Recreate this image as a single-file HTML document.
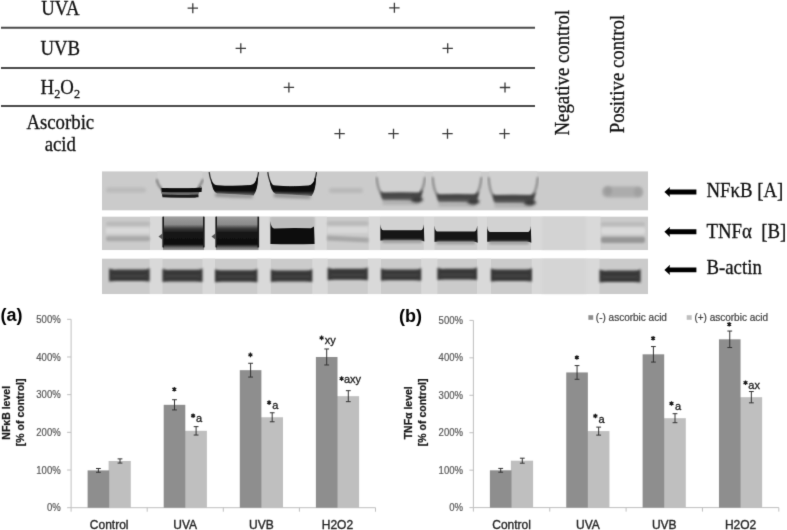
<!DOCTYPE html>
<html><head><meta charset="utf-8"><title>Figure</title>
<style>html,body{margin:0;padding:0;background:#fff;}body{width:787px;height:530px;overflow:hidden;}svg{display:block;filter:grayscale(1);}</style>
</head><body>
<svg width="787" height="530" viewBox="0 0 787 530">
<defs><filter id="gblur" filterUnits="userSpaceOnUse" x="0" y="0" width="787" height="530" color-interpolation-filters="sRGB"><feConvolveMatrix order="3" kernelMatrix="0.0114 0.0841 0.0114 0.0841 0.6180 0.0841 0.0114 0.0841 0.0114" divisor="1" edgeMode="duplicate"/></filter></defs>
<rect width="787" height="530" fill="#fff"/>
<g filter="url(#gblur)">
<defs><filter id="b05" x="-20%" y="-50%" width="140%" height="200%"><feGaussianBlur stdDeviation="0.6"/></filter><filter id="b1" x="-20%" y="-50%" width="140%" height="200%"><feGaussianBlur stdDeviation="0.9"/></filter><filter id="b2" x="-20%" y="-50%" width="140%" height="200%"><feGaussianBlur stdDeviation="1.6"/></filter><filter id="b3" x="-30%" y="-80%" width="160%" height="260%"><feGaussianBlur stdDeviation="2.4"/></filter><clipPath id="c1"><rect x="102" y="171.2" width="546" height="39.400000000000006"/></clipPath><clipPath id="c2"><rect x="102" y="216.4" width="546" height="33.79999999999998"/></clipPath><clipPath id="c3"><rect x="102" y="258.4" width="546" height="35.80000000000001"/></clipPath><linearGradient id="g1" x1="0" y1="0" x2="0" y2="1"><stop offset="0" stop-color="#030303"/><stop offset="0.7" stop-color="#0a0a0a"/><stop offset="1" stop-color="#505050"/></linearGradient><linearGradient id="g2" x1="0" y1="0" x2="0" y2="1"><stop offset="0" stop-color="#a2a2a2"/><stop offset="0.26" stop-color="#8a8a8a"/><stop offset="0.38" stop-color="#3a3a3a"/><stop offset="0.5" stop-color="#151515"/><stop offset="0.83" stop-color="#0e0e0e"/><stop offset="0.92" stop-color="#6a6a6a"/><stop offset="1" stop-color="#a0a0a0"/></linearGradient><linearGradient id="g3" x1="0" y1="0" x2="0" y2="1"><stop offset="0" stop-color="#3a3a3a"/><stop offset="0.5" stop-color="#474747"/><stop offset="1" stop-color="#6a6a6a"/></linearGradient></defs>
<g clip-path="url(#c1)">
<rect x="102" y="171.2" width="546" height="39.400000000000006" fill="#cbcbcb"/>
<rect x="106" y="187.4" width="40" height="5" rx="2.5" fill="#bababa" filter="url(#b2)"/>
<rect x="329" y="188" width="34" height="5" rx="2.5" fill="#b8b8b8" filter="url(#b2)"/>
<rect x="602" y="186.5" width="41" height="11" rx="5" fill="#acacac" filter="url(#b2)"/>
<ellipse cx="608" cy="191" rx="4" ry="4.5" fill="#9c9c9c" filter="url(#b2)"/>
<ellipse cx="638" cy="192" rx="4" ry="4.5" fill="#a0a0a0" filter="url(#b2)"/>
<path d="M157.1 171.2 H202.5 Q201.5 186.0 198.0 189.0 L162.6 189.0 Q158.1 186.0 157.1 171.2 Z" fill="#d0d0d0" filter="url(#b05)"/>
<path d="M156.6 179.2 Q157.6 185.0 161.6 189.0" stroke="#6a6a6a" stroke-width="1.6" fill="none" filter="url(#b1)"/>
<path d="M203.0 179.2 Q202.0 183.0 198.0 188.0" stroke="#6a6a6a" stroke-width="1.6" fill="none" filter="url(#b1)"/>
<path d="M160.6 187.5 Q161.6 188.0 164.6 188.0 Q179.8 189.0 195.0 188.0 Q199.0 187.5 201.0 185.5 L200.0 190.0 Q198.0 197.0 195.0 198.0 Q179.8 198.0 164.6 197.0 Q161.6 196.0 160.6 190.0 Z" fill="#6a6a6a" filter="url(#b05)"/>
<path d="M161.5 188 Q180 188.8 201.5 187.8 L202 185.8 L201.5 192 Q180 192.6 162 192 Z" fill="#080808" filter="url(#b05)"/>
<path d="M162 194.6 Q180 195.3 198.5 194.4 L198.5 197.2 Q180 197.9 162.5 197.2 Z" fill="#1a1a1a" filter="url(#b05)"/>
<path d="M209.7 171.2 H258.1 Q257.1 182 253.60000000000002 186 L215.2 186 Q210.7 182 209.7 171.2 Z" fill="#d0d0d0" filter="url(#b05)"/>
<path d="M209.2 172.2 Q210.2 180 213.2 185" stroke="#333" stroke-width="1.3" fill="none" filter="url(#b05)"/>
<path d="M258.6 172.2 Q258.1 176 256.6 180" stroke="#333" stroke-width="1.3" fill="none" filter="url(#b05)"/>
<path d="M210.7 178 Q212.2 185 217.2 185.2 Q233.9 186.4 250.60000000000002 185 Q255.60000000000002 184 257.1 177 L258.1 178 Q257.6 190 253.60000000000002 195.5 Q233.9 194 217.2 193.5 Q212.2 192 210.7 178 Z" fill="url(#g1)" filter="url(#b05)"/>
<path d="M215.2 193 Q233.9 194.5 252.60000000000002 195 L252.60000000000002 198 Q233.9 197.5 215.2 196.5 Z" fill="#8a8a8a" filter="url(#b2)"/>
<path d="M268.3 171.2 H316.1 Q315.1 182 311.6 186 L273.8 186 Q269.3 182 268.3 171.2 Z" fill="#d0d0d0" filter="url(#b05)"/>
<path d="M267.8 172.2 Q268.8 180 271.8 185" stroke="#333" stroke-width="1.3" fill="none" filter="url(#b05)"/>
<path d="M316.6 172.2 Q316.1 176 314.6 180" stroke="#333" stroke-width="1.3" fill="none" filter="url(#b05)"/>
<path d="M269.3 178.4 Q270.8 185.4 275.8 185.6 Q292.20000000000005 186.8 308.6 185.4 Q313.6 184.4 315.1 177.4 L316.1 178.4 Q315.6 190.4 311.6 195.9 Q292.20000000000005 194.4 275.8 193.9 Q270.8 192.4 269.3 178.4 Z" fill="url(#g1)" filter="url(#b05)"/>
<path d="M273.8 193.4 Q292.20000000000005 194.9 310.6 195.4 L310.6 198.4 Q292.20000000000005 197.9 273.8 196.9 Z" fill="#8a8a8a" filter="url(#b2)"/>
<path d="M377.1 171.2 H424.5 Q423.5 190.6 420.0 193.6 L382.6 193.6 Q378.1 190.6 377.1 171.2 Z" fill="#d0d0d0" filter="url(#b05)"/>
<path d="M376.6 177.2 Q377.6 189.6 381.6 193.6" stroke="#8a8a8a" stroke-width="2.2" fill="none" filter="url(#b1)"/>
<path d="M425.0 177.2 Q424.0 187.6 420.0 192.6" stroke="#8a8a8a" stroke-width="2.2" fill="none" filter="url(#b1)"/>
<path d="M380.6 191.6 Q381.6 192.6 384.6 192.6 Q400.8 192.1 417.0 192.6 Q421.0 192.1 423.0 189.6 L422.0 194.6 Q420.0 201.4 417.0 202.4 Q400.8 200.9 384.6 201.4 Q381.6 200.4 380.6 194.6 Z" fill="url(#g3)" filter="url(#b1)"/>
<rect x="382.6" y="200.4" width="36.39999999999998" height="4.5" fill="#b0b0b0" filter="url(#b2)"/>
<path d="M433.1 171.2 H480.9 Q479.9 192.2 476.4 195.2 L438.6 195.2 Q434.1 192.2 433.1 171.2 Z" fill="#d0d0d0" filter="url(#b05)"/>
<path d="M432.6 177.2 Q433.6 191.2 437.6 195.2" stroke="#8a8a8a" stroke-width="2.2" fill="none" filter="url(#b1)"/>
<path d="M481.4 177.2 Q480.4 189.2 476.4 194.2" stroke="#8a8a8a" stroke-width="2.2" fill="none" filter="url(#b1)"/>
<path d="M436.6 193.2 Q437.6 194.2 440.6 194.2 Q457.0 193.7 473.4 194.2 Q477.4 193.7 479.4 191.2 L478.4 196.2 Q476.4 203.2 473.4 204.2 Q457.0 202.7 440.6 203.2 Q437.6 202.2 436.6 196.2 Z" fill="url(#g3)" filter="url(#b1)"/>
<rect x="438.6" y="202.2" width="36.799999999999955" height="4.5" fill="#b0b0b0" filter="url(#b2)"/>
<path d="M489.1 171.2 H537.3 Q536.3 193.0 532.8 196.0 L494.6 196.0 Q490.1 193.0 489.1 171.2 Z" fill="#d0d0d0" filter="url(#b05)"/>
<path d="M488.6 177.2 Q489.6 192.0 493.6 196.0" stroke="#8a8a8a" stroke-width="2.2" fill="none" filter="url(#b1)"/>
<path d="M537.8 177.2 Q536.8 190.0 532.8 195.0" stroke="#8a8a8a" stroke-width="2.2" fill="none" filter="url(#b1)"/>
<path d="M492.6 194.0 Q493.6 195.0 496.6 195.0 Q513.2 194.5 529.8 195.0 Q533.8 194.5 535.8 192.0 L534.8 197.0 Q532.8 204.0 529.8 205.0 Q513.2 203.5 496.6 204.0 Q493.6 203.0 492.6 197.0 Z" fill="url(#g3)" filter="url(#b1)"/>
<rect x="494.6" y="203.0" width="37.19999999999993" height="4.5" fill="#b0b0b0" filter="url(#b2)"/>
<ellipse cx="417" cy="199.5" rx="6" ry="3" fill="#3a3a3a" filter="url(#b2)"/>
<ellipse cx="473.5" cy="201.5" rx="6" ry="3" fill="#3a3a3a" filter="url(#b2)"/>
<ellipse cx="530" cy="202.5" rx="6" ry="3" fill="#3a3a3a" filter="url(#b2)"/>
</g>
<g clip-path="url(#c2)">
<rect x="102" y="216.4" width="546" height="33.79999999999998" fill="#cbcbcb"/>
<rect x="150" y="216.4" width="11.5" height="33.79999999999998" fill="#d9d9d9" filter="url(#b05)"/>
<rect x="204.5" y="216.4" width="11.0" height="33.79999999999998" fill="#d9d9d9" filter="url(#b05)"/>
<rect x="258.5" y="216.4" width="11.699999999999989" height="33.79999999999998" fill="#d9d9d9" filter="url(#b05)"/>
<rect x="314.6" y="216.4" width="12.199999999999989" height="33.79999999999998" fill="#d9d9d9" filter="url(#b05)"/>
<rect x="368.7" y="216.4" width="11.5" height="33.79999999999998" fill="#d9d9d9" filter="url(#b05)"/>
<rect x="423.8" y="216.4" width="10.699999999999989" height="33.79999999999998" fill="#d9d9d9" filter="url(#b05)"/>
<rect x="477.2" y="216.4" width="9.900000000000034" height="33.79999999999998" fill="#d9d9d9" filter="url(#b05)"/>
<rect x="531" y="216.4" width="69.5" height="33.79999999999998" fill="#d9d9d9" filter="url(#b05)"/>
<rect x="542" y="216" width="44" height="35" fill="#d3d3d3" filter="url(#b2)"/>
<rect x="106" y="221.8" width="44" height="4" rx="2" fill="#b9b9b9" filter="url(#b1)"/>
<rect x="106" y="228" width="44" height="5.5" fill="#dadada" filter="url(#b1)"/>
<rect x="106" y="236.2" width="44" height="5" rx="2" fill="#a9a9a9" filter="url(#b1)"/>
<rect x="327" y="221.3" width="41.5" height="4.2" rx="2" fill="#b9b9b9" filter="url(#b1)"/>
<rect x="327" y="227" width="41.5" height="6" fill="#d8d8d8" filter="url(#b1)"/>
<path d="M327 235.6 L368.5 237.8 L368.5 242.5 L327 240.6 Z" fill="#a7a7a7" filter="url(#b1)"/>
<rect x="163.0" y="215.4" width="41.0" height="34.79999999999998" fill="url(#g2)" filter="url(#b05)"/>
<rect x="162.4" y="216.4" width="1.6" height="31" fill="#1a1a1a" filter="url(#b05)"/>
<rect x="203.0" y="216.4" width="1.6" height="31" fill="#1a1a1a" filter="url(#b05)"/>
<path d="M163.0 233 L158.5 236.4 L163.0 240 Z" fill="#555" filter="url(#b05)"/>
<rect x="216.0" y="215.4" width="42.5" height="34.79999999999998" fill="url(#g2)" filter="url(#b05)"/>
<rect x="215.4" y="216.4" width="1.6" height="31" fill="#1a1a1a" filter="url(#b05)"/>
<rect x="257.5" y="216.4" width="1.6" height="31" fill="#1a1a1a" filter="url(#b05)"/>
<path d="M216.0 233 L211.5 236.4 L216.0 240 Z" fill="#555" filter="url(#b05)"/>
<rect x="270.4" y="216.5" width="44.2" height="12" fill="#bdbdbd" filter="url(#b1)"/>
<path d="M270.4 221 Q271 228 274 228.5 Q292 227.5 311 228.3 Q313 227 314 226.5 L314.6 244 Q292 244.5 270.4 244 Z" fill="#0f0f0f" filter="url(#b05)"/>
<rect x="380.4" y="216.4" width="43.400000000000034" height="13.900000000000006" fill="#d2d2d2" filter="url(#b05)"/>
<path d="M380.4 224.3 Q380.9 230.3 383.4 230.3 H420.8 Q423.3 230.3 423.8 224.3 L424.3 241.4 Q422.8 240.4 419.8 240.4 H384.4 Q381.4 240.4 380.4 240.4 Z" fill="#121212" filter="url(#b05)"/>
<rect x="382.4" y="239.9" width="39.400000000000034" height="3" fill="#9a9a9a" filter="url(#b1)"/>
<rect x="434.5" y="216.4" width="42.69999999999999" height="15.199999999999989" fill="#d2d2d2" filter="url(#b05)"/>
<path d="M434.5 225.6 Q435.0 231.6 437.5 231.6 H474.2 Q476.7 231.6 477.2 225.6 L477.7 242.7 Q476.2 241.7 473.2 241.7 H438.5 Q435.5 241.7 434.5 241.7 Z" fill="#121212" filter="url(#b05)"/>
<rect x="436.5" y="241.2" width="38.69999999999999" height="3" fill="#9a9a9a" filter="url(#b1)"/>
<rect x="487.2" y="216.4" width="43.599999999999966" height="15.599999999999994" fill="#d2d2d2" filter="url(#b05)"/>
<path d="M487.2 226.0 Q487.7 232.0 490.2 232.0 H527.8 Q530.3 232.0 530.8 226.0 L531.3 242.8 Q529.8 241.8 526.8 241.8 H491.2 Q488.2 241.8 487.2 241.8 Z" fill="#121212" filter="url(#b05)"/>
<rect x="489.2" y="241.3" width="39.599999999999966" height="3" fill="#9a9a9a" filter="url(#b1)"/>
<rect x="601" y="222" width="44" height="4.6" rx="2" fill="#bcbcbc" filter="url(#b1)"/>
<rect x="601" y="227.5" width="44" height="6.5" rx="2" fill="#dadada" filter="url(#b1)"/>
<rect x="601" y="236.8" width="44" height="6.2" rx="2" fill="#979797" filter="url(#b1)"/>
</g>
<g clip-path="url(#c3)">
<rect x="102" y="258.4" width="546" height="35.80000000000001" fill="#cbcbcb"/>
<rect x="149.6" y="258.4" width="12.900000000000006" height="35.80000000000001" fill="#d9d9d9" filter="url(#b05)"/>
<rect x="202.5" y="258.4" width="12.5" height="35.80000000000001" fill="#d9d9d9" filter="url(#b05)"/>
<rect x="257.4" y="258.4" width="13.5" height="35.80000000000001" fill="#d9d9d9" filter="url(#b05)"/>
<rect x="312.3" y="258.4" width="15.300000000000011" height="35.80000000000001" fill="#d9d9d9" filter="url(#b05)"/>
<rect x="367.8" y="258.4" width="13.199999999999989" height="35.80000000000001" fill="#d9d9d9" filter="url(#b05)"/>
<rect x="421.2" y="258.4" width="16.19999999999999" height="35.80000000000001" fill="#d9d9d9" filter="url(#b05)"/>
<rect x="477" y="258.4" width="14" height="35.80000000000001" fill="#d9d9d9" filter="url(#b05)"/>
<rect x="531.8" y="258.4" width="67.70000000000005" height="35.80000000000001" fill="#d9d9d9" filter="url(#b05)"/>
<rect x="542" y="258" width="44" height="37" fill="#d5d5d5" filter="url(#b2)"/>
<path d="M109.1 268.6 Q112.1 270.1 117.1 269.6 H143.6 Q147.6 269.6 149.6 268.1 L149.6 281.5 Q146.6 281.0 142.6 281.0 H116.1 Q111.1 281.0 109.1 281.5 Z" fill="#393939" filter="url(#b1)"/>
<rect x="112.1" y="275.1" width="34.5" height="1.4" fill="#4a4a4a" filter="url(#b1)"/>
<path d="M162.5 268.8 Q165.5 270.3 170.5 269.8 H196.5 Q200.5 269.8 202.5 268.3 L202.5 282.1 Q199.5 281.6 195.5 281.6 H169.5 Q164.5 281.6 162.5 282.1 Z" fill="#393939" filter="url(#b1)"/>
<rect x="165.5" y="275.50000000000006" width="34.0" height="1.4" fill="#4a4a4a" filter="url(#b1)"/>
<path d="M215 269.2 Q218 270.7 223 270.2 H251.39999999999998 Q255.39999999999998 270.2 257.4 268.7 L257.4 282.3 Q254.39999999999998 281.8 250.39999999999998 281.8 H222 Q217 281.8 215 282.3 Z" fill="#393939" filter="url(#b1)"/>
<rect x="218" y="275.8" width="36.39999999999998" height="1.4" fill="#4a4a4a" filter="url(#b1)"/>
<path d="M270.9 269.4 Q273.9 270.9 278.9 270.4 H306.3 Q310.3 270.4 312.3 268.9 L312.3 281.9 Q309.3 281.4 305.3 281.4 H277.9 Q272.9 281.4 270.9 281.9 Z" fill="#393939" filter="url(#b1)"/>
<rect x="273.9" y="275.7" width="35.400000000000034" height="1.4" fill="#4a4a4a" filter="url(#b1)"/>
<path d="M327.6 267.8 Q330.6 269.3 335.6 268.8 H361.8 Q365.8 268.8 367.8 267.3 L367.8 280.3 Q364.8 279.8 360.8 279.8 H334.6 Q329.6 279.8 327.6 280.3 Z" fill="#393939" filter="url(#b1)"/>
<rect x="330.6" y="274.1" width="34.19999999999999" height="1.4" fill="#4a4a4a" filter="url(#b1)"/>
<path d="M381 268.4 Q384 269.9 389 269.4 H415.2 Q419.2 269.4 421.2 267.9 L421.2 280.7 Q418.2 280.2 414.2 280.2 H388 Q383 280.2 381 280.7 Z" fill="#393939" filter="url(#b1)"/>
<rect x="384" y="274.59999999999997" width="34.19999999999999" height="1.4" fill="#4a4a4a" filter="url(#b1)"/>
<path d="M437.4 267.8 Q440.4 269.3 445.4 268.8 H471 Q475 268.8 477 267.3 L477 280.1 Q474 279.6 470 279.6 H444.4 Q439.4 279.6 437.4 280.1 Z" fill="#393939" filter="url(#b1)"/>
<rect x="440.4" y="274.00000000000006" width="33.60000000000002" height="1.4" fill="#4a4a4a" filter="url(#b1)"/>
<path d="M490.9 268.4 Q493.9 269.9 498.9 269.4 H525.9 Q529.9 269.4 531.9 267.9 L531.9 281.5 Q528.9 281.0 524.9 281.0 H497.9 Q492.9 281.0 490.9 281.5 Z" fill="#393939" filter="url(#b1)"/>
<rect x="493.9" y="275.0" width="35.0" height="1.4" fill="#4a4a4a" filter="url(#b1)"/>
<path d="M599.5 269.6 Q602.5 271.1 607.5 270.6 H634.6 Q638.6 270.6 640.6 269.1 L640.6 282.5 Q637.6 282.0 633.6 282.0 H606.5 Q601.5 282.0 599.5 282.5 Z" fill="#393939" filter="url(#b1)"/>
<rect x="602.5" y="276.1" width="35.10000000000002" height="1.4" fill="#4a4a4a" filter="url(#b1)"/>
</g>
<text transform="translate(60.3,15.4) scale(0.94,1)" text-anchor="middle" font-family="'Liberation Serif', serif" font-size="20" fill="#111" stroke="#111" stroke-width="0.3" >UVA</text>
<text transform="translate(60.3,55.4) scale(0.94,1)" text-anchor="middle" font-family="'Liberation Serif', serif" font-size="20" fill="#111" stroke="#111" stroke-width="0.3" >UVB</text>
<text transform="translate(60.3,94.2) scale(0.94,1)" text-anchor="middle" font-family="'Liberation Serif', serif" font-size="20" fill="#111" stroke="#111" stroke-width="0.3" >H<tspan font-size="13" dy="4">2</tspan><tspan dy="-4">O</tspan><tspan font-size="13" dy="4">2</tspan></text>
<text transform="translate(60.3,128.6) scale(0.94,1)" text-anchor="middle" font-family="'Liberation Serif', serif" font-size="20" fill="#111" stroke="#111" stroke-width="0.3" >Ascorbic</text>
<text transform="translate(60.3,150.6) scale(0.94,1)" text-anchor="middle" font-family="'Liberation Serif', serif" font-size="20" fill="#111" stroke="#111" stroke-width="0.3" >acid</text>
<line x1="1" y1="27.8" x2="535" y2="27.8" stroke="#4a4a4a" stroke-width="1.9"/>
<line x1="1" y1="68.0" x2="535" y2="68.0" stroke="#4a4a4a" stroke-width="1.9"/>
<line x1="1" y1="106.0" x2="535" y2="106.0" stroke="#4a4a4a" stroke-width="1.9"/>
<path d="M187.60000000000002 8.15H198.0M192.8 3.1500000000000004V13.15" stroke="#3a3a3a" stroke-width="1.3" fill="none"/>
<path d="M389.2 7.8H399.59999999999997M394.4 2.8V12.8" stroke="#3a3a3a" stroke-width="1.3" fill="none"/>
<path d="M235.60000000000002 48.3H246.0M240.8 43.3V53.3" stroke="#3a3a3a" stroke-width="1.3" fill="none"/>
<path d="M442.5 48.3H452.9M447.7 43.3V53.3" stroke="#3a3a3a" stroke-width="1.3" fill="none"/>
<path d="M283.7 87.4H294.09999999999997M288.9 82.4V92.4" stroke="#3a3a3a" stroke-width="1.3" fill="none"/>
<path d="M499.8 87.5H510.2M505 82.5V92.5" stroke="#3a3a3a" stroke-width="1.3" fill="none"/>
<path d="M334.40000000000003 133.7H344.8M339.6 128.7V138.7" stroke="#3a3a3a" stroke-width="1.3" fill="none"/>
<path d="M388.3 133.7H398.7M393.5 128.7V138.7" stroke="#3a3a3a" stroke-width="1.3" fill="none"/>
<path d="M442.3 133.7H452.7M447.5 128.7V138.7" stroke="#3a3a3a" stroke-width="1.3" fill="none"/>
<path d="M499.3 133.7H509.7M504.5 128.7V138.7" stroke="#3a3a3a" stroke-width="1.3" fill="none"/>
<text transform="translate(569,135.5) rotate(-90) scale(0.94,1)" font-family="'Liberation Serif', serif" font-size="20" fill="#111" stroke="#111" stroke-width="0.3">Negative control</text>
<text transform="translate(623.6,133.3) rotate(-90) scale(0.94,1)" font-family="'Liberation Serif', serif" font-size="20" fill="#111" stroke="#111" stroke-width="0.3">Positive control</text>
<path d="M664.4 192.0 L670 186.9 L669.6 189.55 H696.4 V194.45 H669.6 L670 197.1 Z" fill="#000"/>
<path d="M664.4 231.8 L670 226.70000000000002 L669.6 229.35000000000002 H696.4 V234.25 H669.6 L670 236.9 Z" fill="#000"/>
<path d="M664.4 269.9 L670 264.79999999999995 L669.6 267.45 H696.4 V272.34999999999997 H669.6 L670 275.0 Z" fill="#000"/>
<text transform="translate(706.5,196.8) scale(0.94,1)" text-anchor="start" font-family="'Liberation Serif', serif" font-size="20" fill="#111" stroke="#111" stroke-width="0.3" >NF&#954;B [A]</text>
<text transform="translate(706.5,237.6) scale(0.94,1)" text-anchor="start" font-family="'Liberation Serif', serif" font-size="20" fill="#111" stroke="#111" stroke-width="0.3" >TNF&#945;&#160; [B]</text>
<text transform="translate(706.5,274.0) scale(0.94,1)" text-anchor="start" font-family="'Liberation Serif', serif" font-size="20" fill="#111" stroke="#111" stroke-width="0.3" >B-actin</text>
<path d="M71.1 319.29999999999995 V507.7 H375.5" stroke="#bfbfbf" stroke-width="1" fill="none"/>
<path d="M67.1 507.7 H71.1" stroke="#bfbfbf" stroke-width="1"/>
<text transform="translate(60.70,511.30) scale(0.955,1)" text-anchor="end" font-family="'Liberation Sans', sans-serif" font-size="10" fill="#595959" stroke="#595959" stroke-width="0.2">0%</text>
<path d="M67.1 470.02 H71.1" stroke="#bfbfbf" stroke-width="1"/>
<text transform="translate(60.70,473.62) scale(0.955,1)" text-anchor="end" font-family="'Liberation Sans', sans-serif" font-size="10" fill="#595959" stroke="#595959" stroke-width="0.2">100%</text>
<path d="M67.1 432.34 H71.1" stroke="#bfbfbf" stroke-width="1"/>
<text transform="translate(60.70,435.94) scale(0.955,1)" text-anchor="end" font-family="'Liberation Sans', sans-serif" font-size="10" fill="#595959" stroke="#595959" stroke-width="0.2">200%</text>
<path d="M67.1 394.65999999999997 H71.1" stroke="#bfbfbf" stroke-width="1"/>
<text transform="translate(60.70,398.26) scale(0.955,1)" text-anchor="end" font-family="'Liberation Sans', sans-serif" font-size="10" fill="#595959" stroke="#595959" stroke-width="0.2">300%</text>
<path d="M67.1 356.98 H71.1" stroke="#bfbfbf" stroke-width="1"/>
<text transform="translate(60.70,360.58) scale(0.955,1)" text-anchor="end" font-family="'Liberation Sans', sans-serif" font-size="10" fill="#595959" stroke="#595959" stroke-width="0.2">400%</text>
<path d="M67.1 319.29999999999995 H71.1" stroke="#bfbfbf" stroke-width="1"/>
<text transform="translate(60.70,322.90) scale(0.955,1)" text-anchor="end" font-family="'Liberation Sans', sans-serif" font-size="10" fill="#595959" stroke="#595959" stroke-width="0.2">500%</text>
<path d="M71.1 507.7 V511.7" stroke="#bfbfbf" stroke-width="1"/>
<path d="M147.2 507.7 V511.7" stroke="#bfbfbf" stroke-width="1"/>
<path d="M223.29999999999998 507.7 V511.7" stroke="#bfbfbf" stroke-width="1"/>
<path d="M299.4 507.7 V511.7" stroke="#bfbfbf" stroke-width="1"/>
<path d="M375.5 507.7 V511.7" stroke="#bfbfbf" stroke-width="1"/>
<rect x="108.60" y="460.98" width="22.20" height="46.72" fill="#bfbfbf"/>
<rect x="87.60" y="470.40" width="21.6" height="37.30" fill="#8e8e8e"/>
<path d="M98.39999999999999 468.4968 V472.29679999999996 M95.99999999999999 468.4968 H100.8 M95.99999999999999 472.29679999999996 H100.8" stroke="#333" stroke-width="1" fill="none"/>
<path d="M120.0 458.87679999999995 V463.0768 M117.6 458.87679999999995 H122.4 M117.6 463.0768 H122.4" stroke="#333" stroke-width="1" fill="none"/>
<text x="109.14999999999999" y="528.8" text-anchor="middle" font-family="'Liberation Sans', sans-serif" font-size="12" fill="#262626" stroke="#262626" stroke-width="0.35">Control</text>
<rect x="184.70" y="430.83" width="22.20" height="76.87" fill="#bfbfbf"/>
<rect x="163.70" y="404.83" width="21.6" height="102.87" fill="#8e8e8e"/>
<path d="M174.5 399.73359999999997 V409.9336 M172.1 399.73359999999997 H176.9 M172.1 409.9336 H176.9" stroke="#333" stroke-width="1" fill="none"/>
<path d="M196.1 426.63280000000003 V435.0328 M193.7 426.63280000000003 H198.5 M193.7 435.0328 H198.5" stroke="#333" stroke-width="1" fill="none"/>
<text x="185.25" y="528.8" text-anchor="middle" font-family="'Liberation Sans', sans-serif" font-size="12" fill="#262626" stroke="#262626" stroke-width="0.35">UVA</text>
<rect x="260.80" y="417.27" width="22.20" height="90.43" fill="#bfbfbf"/>
<rect x="239.80" y="370.17" width="21.6" height="137.53" fill="#8e8e8e"/>
<path d="M250.6 363.26800000000003 V377.068 M248.2 363.26800000000003 H253.0 M248.2 377.068 H253.0" stroke="#333" stroke-width="1" fill="none"/>
<path d="M272.2 412.768 V421.768 M269.8 412.768 H274.59999999999997 M269.8 421.768 H274.59999999999997" stroke="#333" stroke-width="1" fill="none"/>
<text x="261.34999999999997" y="528.8" text-anchor="middle" font-family="'Liberation Sans', sans-serif" font-size="12" fill="#262626" stroke="#262626" stroke-width="0.35">UVB</text>
<rect x="336.90" y="396.17" width="22.20" height="111.53" fill="#bfbfbf"/>
<rect x="315.90" y="356.98" width="21.6" height="150.72" fill="#8e8e8e"/>
<path d="M326.7 348.98 V364.98 M324.3 348.98 H329.09999999999997 M324.3 364.98 H329.09999999999997" stroke="#333" stroke-width="1" fill="none"/>
<path d="M348.29999999999995 390.6672 V401.6672 M345.9 390.6672 H350.69999999999993 M345.9 401.6672 H350.69999999999993" stroke="#333" stroke-width="1" fill="none"/>
<text x="337.45" y="528.8" text-anchor="middle" font-family="'Liberation Sans', sans-serif" font-size="12" fill="#262626" stroke="#262626" stroke-width="0.35">H2O2</text>
<path d="M174.3 387.0V391.6M172.31 388.15L176.29 390.45M172.31 390.45L176.29 388.15" stroke="#1a1a1a" stroke-width="1.25" fill="none"/><circle cx="174.3" cy="389.3" r="1.2" fill="#1a1a1a"/>
<path d="M193.1 413.5V418.1M191.11 414.65L195.09 416.95M191.11 416.95L195.09 414.65" stroke="#1a1a1a" stroke-width="1.25" fill="none"/><circle cx="193.1" cy="415.8" r="1.2" fill="#1a1a1a"/>
<text x="196.0" y="422" font-family="'Liberation Sans', sans-serif" font-size="11" fill="#1a1a1a" stroke="#1a1a1a" stroke-width="0.3">a</text>
<path d="M250.4 352.59999999999997V357.2M248.41 353.75L252.39 356.05M248.41 356.05L252.39 353.75" stroke="#1a1a1a" stroke-width="1.25" fill="none"/><circle cx="250.4" cy="354.9" r="1.2" fill="#1a1a1a"/>
<path d="M269.1 400.3V404.90000000000003M267.11 401.45L271.09 403.75M267.11 403.75L271.09 401.45" stroke="#1a1a1a" stroke-width="1.25" fill="none"/><circle cx="269.1" cy="402.6" r="1.2" fill="#1a1a1a"/>
<text x="272.3" y="408.9" font-family="'Liberation Sans', sans-serif" font-size="11" fill="#1a1a1a" stroke="#1a1a1a" stroke-width="0.3">a</text>
<path d="M321.6 335.59999999999997V340.2M319.61 336.75L323.59 339.05M319.61 339.05L323.59 336.75" stroke="#1a1a1a" stroke-width="1.25" fill="none"/><circle cx="321.6" cy="337.9" r="1.2" fill="#1a1a1a"/>
<text x="324.8" y="344.1" font-family="'Liberation Sans', sans-serif" font-size="11" fill="#1a1a1a" stroke="#1a1a1a" stroke-width="0.3">xy</text>
<path d="M341.6 376.3V380.90000000000003M339.61 377.45L343.59 379.75M339.61 379.75L343.59 377.45" stroke="#1a1a1a" stroke-width="1.25" fill="none"/><circle cx="341.6" cy="378.6" r="1.2" fill="#1a1a1a"/>
<text x="344.0" y="383.2" font-family="'Liberation Sans', sans-serif" font-size="11" fill="#1a1a1a" stroke="#1a1a1a" stroke-width="0.3">axy</text>
<text x="0.5" y="321.3" font-family="'Liberation Sans', sans-serif" font-size="18" font-weight="bold" fill="#000">(a)</text>
<text transform="translate(9.8,412.8) rotate(-90)" text-anchor="middle" font-family="'Liberation Sans', sans-serif" font-size="10.5" font-weight="bold" fill="#1a1a1a" stroke="#1a1a1a" stroke-width="0.25">NF&#954;B level</text>
<text transform="translate(23.8,412.3) rotate(-90)" text-anchor="middle" font-family="'Liberation Sans', sans-serif" font-size="10.5" font-weight="bold" fill="#1a1a1a" stroke="#1a1a1a" stroke-width="0.25">[% of control]</text>
<path d="M473.4 320.40000000000003 V507.6 H778.8" stroke="#bfbfbf" stroke-width="1" fill="none"/>
<path d="M469.4 507.6 H473.4" stroke="#bfbfbf" stroke-width="1"/>
<text transform="translate(463.00,511.20) scale(0.955,1)" text-anchor="end" font-family="'Liberation Sans', sans-serif" font-size="10" fill="#595959" stroke="#595959" stroke-width="0.2">0%</text>
<path d="M469.4 470.16 H473.4" stroke="#bfbfbf" stroke-width="1"/>
<text transform="translate(463.00,473.76) scale(0.955,1)" text-anchor="end" font-family="'Liberation Sans', sans-serif" font-size="10" fill="#595959" stroke="#595959" stroke-width="0.2">100%</text>
<path d="M469.4 432.72 H473.4" stroke="#bfbfbf" stroke-width="1"/>
<text transform="translate(463.00,436.32) scale(0.955,1)" text-anchor="end" font-family="'Liberation Sans', sans-serif" font-size="10" fill="#595959" stroke="#595959" stroke-width="0.2">200%</text>
<path d="M469.4 395.28000000000003 H473.4" stroke="#bfbfbf" stroke-width="1"/>
<text transform="translate(463.00,398.88) scale(0.955,1)" text-anchor="end" font-family="'Liberation Sans', sans-serif" font-size="10" fill="#595959" stroke="#595959" stroke-width="0.2">300%</text>
<path d="M469.4 357.84000000000003 H473.4" stroke="#bfbfbf" stroke-width="1"/>
<text transform="translate(463.00,361.44) scale(0.955,1)" text-anchor="end" font-family="'Liberation Sans', sans-serif" font-size="10" fill="#595959" stroke="#595959" stroke-width="0.2">400%</text>
<path d="M469.4 320.40000000000003 H473.4" stroke="#bfbfbf" stroke-width="1"/>
<text transform="translate(463.00,324.00) scale(0.955,1)" text-anchor="end" font-family="'Liberation Sans', sans-serif" font-size="10" fill="#595959" stroke="#595959" stroke-width="0.2">500%</text>
<path d="M473.4 507.6 V511.6" stroke="#bfbfbf" stroke-width="1"/>
<path d="M549.75 507.6 V511.6" stroke="#bfbfbf" stroke-width="1"/>
<path d="M626.0999999999999 507.6 V511.6" stroke="#bfbfbf" stroke-width="1"/>
<path d="M702.4499999999999 507.6 V511.6" stroke="#bfbfbf" stroke-width="1"/>
<path d="M778.8 507.6 V511.6" stroke="#bfbfbf" stroke-width="1"/>
<rect x="510.90" y="460.69" width="22.20" height="46.91" fill="#bfbfbf"/>
<rect x="489.90" y="470.31" width="21.6" height="37.29" fill="#8e8e8e"/>
<path d="M500.7 468.40976000000006 V472.20976 M498.3 468.40976000000006 H503.09999999999997 M498.3 472.20976 H503.09999999999997" stroke="#333" stroke-width="1" fill="none"/>
<path d="M522.3 458.18768 V463.18768 M519.9 458.18768 H524.6999999999999 M519.9 463.18768 H524.6999999999999" stroke="#333" stroke-width="1" fill="none"/>
<text x="511.575" y="528.8" text-anchor="middle" font-family="'Liberation Sans', sans-serif" font-size="12" fill="#262626" stroke="#262626" stroke-width="0.35">Control</text>
<rect x="587.25" y="431.11" width="22.20" height="76.49" fill="#bfbfbf"/>
<rect x="566.25" y="372.44" width="21.6" height="135.16" fill="#8e8e8e"/>
<path d="M577.05 365.59159999999997 V379.2916 M574.65 365.59159999999997 H579.4499999999999 M574.65 379.2916 H579.4499999999999" stroke="#333" stroke-width="1" fill="none"/>
<path d="M598.65 427.11008000000004 V435.11008000000004 M596.25 427.11008000000004 H601.05 M596.25 435.11008000000004 H601.05" stroke="#333" stroke-width="1" fill="none"/>
<text x="587.925" y="528.8" text-anchor="middle" font-family="'Liberation Sans', sans-serif" font-size="12" fill="#262626" stroke="#262626" stroke-width="0.35">UVA</text>
<rect x="663.60" y="418.19" width="22.20" height="89.41" fill="#bfbfbf"/>
<rect x="642.60" y="354.32" width="21.6" height="153.28" fill="#8e8e8e"/>
<path d="M653.3999999999999 346.57064 V362.07064 M650.9999999999999 346.57064 H655.7999999999998 M650.9999999999999 362.07064 H655.7999999999998" stroke="#333" stroke-width="1" fill="none"/>
<path d="M674.9999999999999 413.69328 V422.69328 M672.5999999999999 413.69328 H677.3999999999999 M672.5999999999999 422.69328 H677.3999999999999" stroke="#333" stroke-width="1" fill="none"/>
<text x="664.2749999999999" y="528.8" text-anchor="middle" font-family="'Liberation Sans', sans-serif" font-size="12" fill="#262626" stroke="#262626" stroke-width="0.35">UVB</text>
<rect x="739.95" y="397.19" width="22.20" height="110.41" fill="#bfbfbf"/>
<rect x="718.95" y="339.31" width="21.6" height="168.29" fill="#8e8e8e"/>
<path d="M729.7499999999999 331.0572 V347.5572 M727.3499999999999 331.0572 H732.1499999999999 M727.3499999999999 347.5572 H732.1499999999999" stroke="#333" stroke-width="1" fill="none"/>
<path d="M751.3499999999999 391.53944000000007 V402.83944 M748.9499999999999 391.53944000000007 H753.7499999999999 M748.9499999999999 402.83944 H753.7499999999999" stroke="#333" stroke-width="1" fill="none"/>
<text x="740.6249999999999" y="528.8" text-anchor="middle" font-family="'Liberation Sans', sans-serif" font-size="12" fill="#262626" stroke="#262626" stroke-width="0.35">H2O2</text>
<path d="M576.9 355.2V359.8M574.91 356.35L578.89 358.65M574.91 358.65L578.89 356.35" stroke="#1a1a1a" stroke-width="1.25" fill="none"/><circle cx="576.9" cy="357.5" r="1.2" fill="#1a1a1a"/>
<path d="M595.4 413.7V418.3M593.41 414.85L597.39 417.15M593.41 417.15L597.39 414.85" stroke="#1a1a1a" stroke-width="1.25" fill="none"/><circle cx="595.4" cy="416" r="1.2" fill="#1a1a1a"/>
<text x="598.6" y="422.5" font-family="'Liberation Sans', sans-serif" font-size="11" fill="#1a1a1a" stroke="#1a1a1a" stroke-width="0.3">a</text>
<path d="M653.1 336.0V340.6M651.11 337.15L655.09 339.45M651.11 339.45L655.09 337.15" stroke="#1a1a1a" stroke-width="1.25" fill="none"/><circle cx="653.1" cy="338.3" r="1.2" fill="#1a1a1a"/>
<path d="M671.5 401.2V405.8M669.51 402.35L673.49 404.65M669.51 404.65L673.49 402.35" stroke="#1a1a1a" stroke-width="1.25" fill="none"/><circle cx="671.5" cy="403.5" r="1.2" fill="#1a1a1a"/>
<text x="675.0" y="410" font-family="'Liberation Sans', sans-serif" font-size="11" fill="#1a1a1a" stroke="#1a1a1a" stroke-width="0.3">a</text>
<path d="M729.2 322.0V326.6M727.21 323.15L731.19 325.45M727.21 325.45L731.19 323.15" stroke="#1a1a1a" stroke-width="1.25" fill="none"/><circle cx="729.2" cy="324.3" r="1.2" fill="#1a1a1a"/>
<path d="M745.5 380.4V385.0M743.51 381.55L747.49 383.85M743.51 383.85L747.49 381.55" stroke="#1a1a1a" stroke-width="1.25" fill="none"/><circle cx="745.5" cy="382.7" r="1.2" fill="#1a1a1a"/>
<text x="748.3" y="389" font-family="'Liberation Sans', sans-serif" font-size="11" fill="#1a1a1a" stroke="#1a1a1a" stroke-width="0.3">ax</text>
<text x="399" y="321.8" font-family="'Liberation Sans', sans-serif" font-size="18" font-weight="bold" fill="#000">(b)</text>
<text transform="translate(412.4,412.8) rotate(-90)" text-anchor="middle" font-family="'Liberation Sans', sans-serif" font-size="10.5" font-weight="bold" fill="#1a1a1a" stroke="#1a1a1a" stroke-width="0.25">TNF&#945; level</text>
<text transform="translate(426.4,412.3) rotate(-90)" text-anchor="middle" font-family="'Liberation Sans', sans-serif" font-size="10.5" font-weight="bold" fill="#1a1a1a" stroke="#1a1a1a" stroke-width="0.25">[% of control]</text>
<rect x="588.4" y="315.2" width="4.8" height="4.6" fill="#8e8e8e"/>
<text x="595.8" y="321" font-family="'Liberation Sans', sans-serif" font-size="10" fill="#404040" stroke="#404040" stroke-width="0.2">(-) ascorbic acid</text>
<rect x="686.7" y="315.2" width="5" height="4.6" fill="#bfbfbf"/>
<text x="694.4" y="321" font-family="'Liberation Sans', sans-serif" font-size="10" fill="#404040" stroke="#404040" stroke-width="0.2">(+) ascorbic acid</text>
</g>
</svg>
</body></html>
